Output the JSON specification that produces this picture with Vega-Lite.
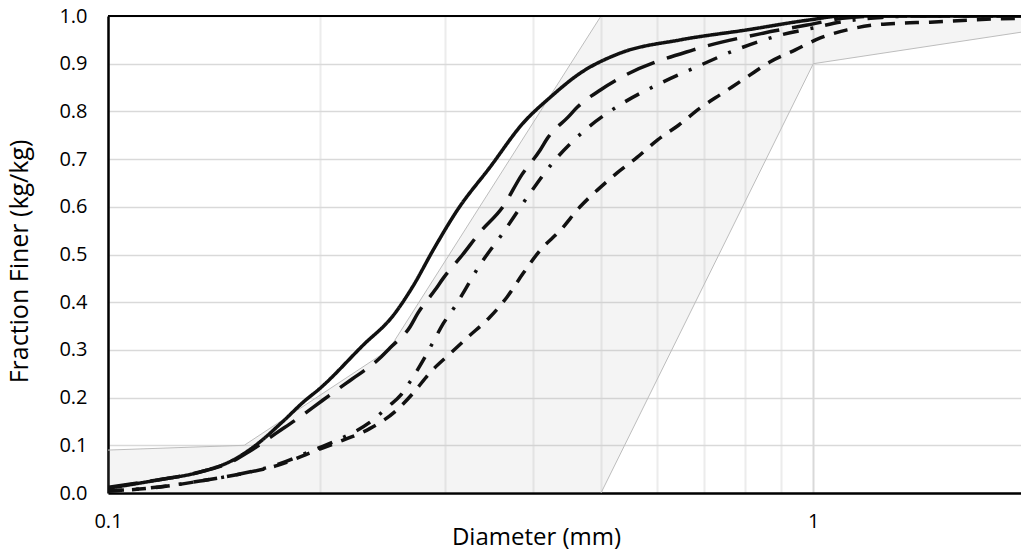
{
  "$schema": "https://vega.github.io/schema/vega-lite/v6.json",
  "width": 913,
  "height": 477,
  "autosize": {"type": "none"},
  "padding": {"left": 108, "top": 16, "right": 0, "bottom": 62},
  "background": "white",
  "config": {"view": {"stroke": null}, "font": "Open Sans"},
  "datasets": {
    "band": [
      {"d": 0.1, "hi": 0.09, "lo": 0},
      {"d": 0.156, "hi": 0.1, "lo": 0},
      {"d": 0.25, "hi": 0.3, "lo": 0},
      {"d": 0.5, "hi": 1.0, "lo": 0},
      {"d": 1.0, "hi": 1.0, "lo": 0.9},
      {"d": 1.97, "hi": 1.0, "lo": 0.966}
    ],
    "bounds": [
      {"side": "upper", "d": 0.1, "f": 0.09},
      {"side": "upper", "d": 0.156, "f": 0.1},
      {"side": "upper", "d": 0.25, "f": 0.3},
      {"side": "upper", "d": 0.5, "f": 1.0},
      {"side": "lower", "d": 0.5, "f": 0},
      {"side": "lower", "d": 1.0, "f": 0.9},
      {"side": "lower", "d": 1.97, "f": 0.966}
    ],
    "curves": [
      {"series": "Sample 1", "d": 0.1, "f": 0.01},
      {"series": "Sample 1", "d": 0.1174, "f": 0.027},
      {"series": "Sample 1", "d": 0.135, "f": 0.044},
      {"series": "Sample 1", "d": 0.1504, "f": 0.069},
      {"series": "Sample 1", "d": 0.1606, "f": 0.096},
      {"series": "Sample 1", "d": 0.177, "f": 0.15},
      {"series": "Sample 1", "d": 0.189, "f": 0.19},
      {"series": "Sample 1", "d": 0.2, "f": 0.22},
      {"series": "Sample 1", "d": 0.23, "f": 0.31},
      {"series": "Sample 1", "d": 0.2537, "f": 0.372},
      {"series": "Sample 1", "d": 0.271, "f": 0.435},
      {"series": "Sample 1", "d": 0.289, "f": 0.509},
      {"series": "Sample 1", "d": 0.3128, "f": 0.593},
      {"series": "Sample 1", "d": 0.348, "f": 0.683},
      {"series": "Sample 1", "d": 0.388, "f": 0.776},
      {"series": "Sample 1", "d": 0.424, "f": 0.83},
      {"series": "Sample 1", "d": 0.467, "f": 0.88},
      {"series": "Sample 1", "d": 0.532, "f": 0.922},
      {"series": "Sample 1", "d": 0.648, "f": 0.95},
      {"series": "Sample 1", "d": 0.806, "f": 0.971},
      {"series": "Sample 1", "d": 0.99, "f": 0.992},
      {"series": "Sample 1", "d": 1.1, "f": 1.0},
      {"series": "Sample 1", "d": 1.97, "f": 1.0},

      {"series": "Sample 2", "d": 0.1, "f": 0.012},
      {"series": "Sample 2", "d": 0.117, "f": 0.027},
      {"series": "Sample 2", "d": 0.135, "f": 0.044},
      {"series": "Sample 2", "d": 0.15, "f": 0.066},
      {"series": "Sample 2", "d": 0.159, "f": 0.088},
      {"series": "Sample 2", "d": 0.173, "f": 0.125},
      {"series": "Sample 2", "d": 0.187, "f": 0.159},
      {"series": "Sample 2", "d": 0.2018, "f": 0.195},
      {"series": "Sample 2", "d": 0.218, "f": 0.231},
      {"series": "Sample 2", "d": 0.226, "f": 0.247},
      {"series": "Sample 2", "d": 0.243, "f": 0.283},
      {"series": "Sample 2", "d": 0.251, "f": 0.304},
      {"series": "Sample 2", "d": 0.268, "f": 0.348},
      {"series": "Sample 2", "d": 0.275, "f": 0.377},
      {"series": "Sample 2", "d": 0.291, "f": 0.426},
      {"series": "Sample 2", "d": 0.299, "f": 0.451},
      {"series": "Sample 2", "d": 0.318, "f": 0.499},
      {"series": "Sample 2", "d": 0.337, "f": 0.547},
      {"series": "Sample 2", "d": 0.363, "f": 0.6},
      {"series": "Sample 2", "d": 0.386, "f": 0.667},
      {"series": "Sample 2", "d": 0.41, "f": 0.719},
      {"series": "Sample 2", "d": 0.42, "f": 0.744},
      {"series": "Sample 2", "d": 0.449, "f": 0.788},
      {"series": "Sample 2", "d": 0.463, "f": 0.809},
      {"series": "Sample 2", "d": 0.499, "f": 0.845},
      {"series": "Sample 2", "d": 0.532, "f": 0.87},
      {"series": "Sample 2", "d": 0.676, "f": 0.929},
      {"series": "Sample 2", "d": 0.849, "f": 0.964},
      {"series": "Sample 2", "d": 0.98, "f": 0.981},
      {"series": "Sample 2", "d": 1.1, "f": 0.995},
      {"series": "Sample 2", "d": 1.25, "f": 1.0},
      {"series": "Sample 2", "d": 1.97, "f": 1.0},

      {"series": "Sample 3", "d": 0.1, "f": 0.004},
      {"series": "Sample 3", "d": 0.115, "f": 0.011},
      {"series": "Sample 3", "d": 0.135, "f": 0.025},
      {"series": "Sample 3", "d": 0.154, "f": 0.04},
      {"series": "Sample 3", "d": 0.174, "f": 0.06},
      {"series": "Sample 3", "d": 0.194, "f": 0.088},
      {"series": "Sample 3", "d": 0.213, "f": 0.113},
      {"series": "Sample 3", "d": 0.235, "f": 0.148},
      {"series": "Sample 3", "d": 0.25, "f": 0.182},
      {"series": "Sample 3", "d": 0.26, "f": 0.205},
      {"series": "Sample 3", "d": 0.268, "f": 0.233},
      {"series": "Sample 3", "d": 0.28, "f": 0.279},
      {"series": "Sample 3", "d": 0.288, "f": 0.312},
      {"series": "Sample 3", "d": 0.299, "f": 0.356},
      {"series": "Sample 3", "d": 0.31, "f": 0.39},
      {"series": "Sample 3", "d": 0.322, "f": 0.43},
      {"series": "Sample 3", "d": 0.334, "f": 0.47},
      {"series": "Sample 3", "d": 0.363, "f": 0.545},
      {"series": "Sample 3", "d": 0.393, "f": 0.62},
      {"series": "Sample 3", "d": 0.428, "f": 0.694},
      {"series": "Sample 3", "d": 0.473, "f": 0.759},
      {"series": "Sample 3", "d": 0.531, "f": 0.813},
      {"series": "Sample 3", "d": 0.603, "f": 0.857},
      {"series": "Sample 3", "d": 0.687, "f": 0.895},
      {"series": "Sample 3", "d": 0.783, "f": 0.931},
      {"series": "Sample 3", "d": 0.898, "f": 0.96},
      {"series": "Sample 3", "d": 1.0, "f": 0.975},
      {"series": "Sample 3", "d": 1.1, "f": 0.988},
      {"series": "Sample 3", "d": 1.25, "f": 0.997},
      {"series": "Sample 3", "d": 1.4, "f": 1.0},
      {"series": "Sample 3", "d": 1.97, "f": 1.0},

      {"series": "Sample 4", "d": 0.1, "f": 0.004},
      {"series": "Sample 4", "d": 0.118, "f": 0.012},
      {"series": "Sample 4", "d": 0.135, "f": 0.025},
      {"series": "Sample 4", "d": 0.154, "f": 0.04},
      {"series": "Sample 4", "d": 0.174, "f": 0.058},
      {"series": "Sample 4", "d": 0.194, "f": 0.085},
      {"series": "Sample 4", "d": 0.213, "f": 0.108},
      {"series": "Sample 4", "d": 0.235, "f": 0.135},
      {"series": "Sample 4", "d": 0.255, "f": 0.17},
      {"series": "Sample 4", "d": 0.271, "f": 0.21},
      {"series": "Sample 4", "d": 0.286, "f": 0.252},
      {"series": "Sample 4", "d": 0.306, "f": 0.293},
      {"series": "Sample 4", "d": 0.324, "f": 0.327},
      {"series": "Sample 4", "d": 0.348, "f": 0.369},
      {"series": "Sample 4", "d": 0.368, "f": 0.411},
      {"series": "Sample 4", "d": 0.388, "f": 0.461},
      {"series": "Sample 4", "d": 0.41, "f": 0.509},
      {"series": "Sample 4", "d": 0.438, "f": 0.551},
      {"series": "Sample 4", "d": 0.467, "f": 0.6},
      {"series": "Sample 4", "d": 0.494, "f": 0.635},
      {"series": "Sample 4", "d": 0.527, "f": 0.671},
      {"series": "Sample 4", "d": 0.563, "f": 0.704},
      {"series": "Sample 4", "d": 0.601, "f": 0.74},
      {"series": "Sample 4", "d": 0.644, "f": 0.771},
      {"series": "Sample 4", "d": 0.691, "f": 0.807},
      {"series": "Sample 4", "d": 0.745, "f": 0.839},
      {"series": "Sample 4", "d": 0.805, "f": 0.872},
      {"series": "Sample 4", "d": 0.869, "f": 0.904},
      {"series": "Sample 4", "d": 0.943, "f": 0.929},
      {"series": "Sample 4", "d": 1.023, "f": 0.954},
      {"series": "Sample 4", "d": 1.117, "f": 0.971},
      {"series": "Sample 4", "d": 1.216, "f": 0.981},
      {"series": "Sample 4", "d": 1.328, "f": 0.985},
      {"series": "Sample 4", "d": 1.465, "f": 0.987},
      {"series": "Sample 4", "d": 1.6, "f": 0.99},
      {"series": "Sample 4", "d": 1.82, "f": 0.994},
      {"series": "Sample 4", "d": 1.97, "f": 0.995}
    ]
  },
  "layer": [
    {
      "data": {"name": "band"},
      "mark": {"type": "area", "fill": "#a8a8a8", "fillOpacity": 0.13, "clip": true},
      "encoding": {
        "x": {
          "field": "d", "type": "quantitative",
          "scale": {"type": "log", "domain": [0.1, 1.97], "nice": false},
          "axis": {
            "values": [0.1, 0.2, 0.3, 0.4, 0.5, 0.6, 0.7, 0.8, 0.9, 1],
            "labelExpr": "datum.value == 0.1 ? '0.1' : (datum.value == 1 ? '1' : '')",
            "ticks": false,
            "domainColor": "black",
            "domainWidth": 2.5,
            "gridColor": {"condition": {"test": "datum.value == 1", "value": "#d9d9d9"}, "value": "#ececec"},
            "gridWidth": 2,
            "labelFontSize": 20,
            "labelColor": "black",
            "labelPadding": 18,
            "labelFlush": false,
            "title": "Diameter (mm)",
            "titleFontSize": 24,
            "titleFontWeight": "normal",
            "titleColor": "black",
            "titleX": 428,
            "titleY": 51,
            "titleAlign": "center",
            "titleBaseline": "alphabetic"
          }
        },
        "y": {
          "field": "hi", "type": "quantitative",
          "scale": {"domain": [0, 1], "nice": false},
          "axis": {
            "values": [0, 0.1, 0.2, 0.3, 0.4, 0.5, 0.6, 0.7, 0.8, 0.9, 1],
            "format": ".1f",
            "ticks": false,
            "domainColor": "black",
            "domainWidth": 2.5,
            "gridColor": "#d9d9d9",
            "gridWidth": 1.5,
            "labelFontSize": 20,
            "labelColor": "black",
            "labelPadding": 21,
            "labelFlush": false,
            "title": "Fraction Finer (kg/kg)",
            "titleFontSize": 25,
            "titleFontWeight": "normal",
            "titleColor": "black",
            "titleX": -81,
            "titleY": 245,
            "titleAlign": "center",
            "titleBaseline": "alphabetic",
            "titleAngle": -90
          }
        },
        "y2": {"field": "lo"}
      }
    },
    {
      "data": {"name": "bounds"},
      "mark": {"type": "line", "stroke": "#bdbdbd", "strokeWidth": 1, "clip": true},
      "encoding": {
        "x": {"field": "d", "type": "quantitative"},
        "y": {"field": "f", "type": "quantitative"},
        "detail": {"field": "side"}
      }
    },
    {
      "data": {"name": "curves"},
      "mark": {"type": "line", "stroke": "#111111", "strokeWidth": 3.5, "clip": true, "interpolate": "monotone"},
      "encoding": {
        "x": {"field": "d", "type": "quantitative"},
        "y": {"field": "f", "type": "quantitative"},
        "strokeDash": {
          "field": "series", "type": "nominal",
          "scale": {"domain": ["Sample 1", "Sample 2", "Sample 3", "Sample 4"], "range": [[1, 0], [30, 13], [16, 12, 3, 12], [14, 10]]},
          "legend": null
        }
      }
    },
    {
      "data": {"values": [{}]},
      "mark": {"type": "rule", "stroke": "black", "strokeWidth": 2},
      "encoding": {"y": {"datum": 1}}
    }
  ]
}
